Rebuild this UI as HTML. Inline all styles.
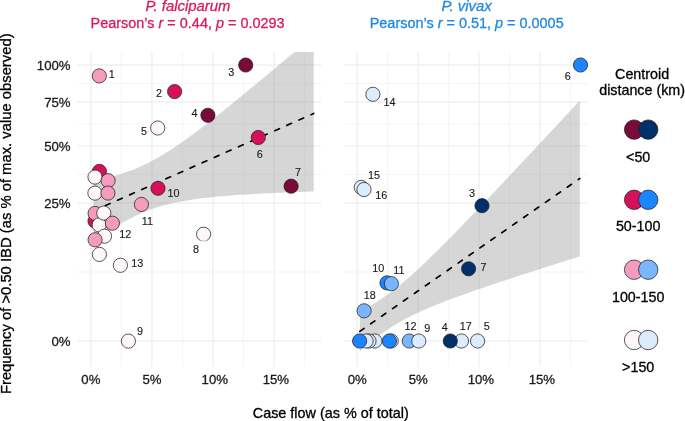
<!DOCTYPE html>
<html><head><meta charset="utf-8"><style>
html,body{margin:0;padding:0;background:#fff;}
svg{display:block;will-change:transform;}
text{font-family:"Liberation Sans", sans-serif;stroke:currentColor;stroke-width:0.3px;}
</style></head><body>
<svg width="685" height="421" viewBox="0 0 685 421">
<rect width="685" height="421" fill="#fff"/>
<line x1="121.35" y1="52.0" x2="121.35" y2="366.8" stroke="#F5F5F5" stroke-width="1"/>
<line x1="182.45" y1="52.0" x2="182.45" y2="366.8" stroke="#F5F5F5" stroke-width="1"/>
<line x1="243.55" y1="52.0" x2="243.55" y2="366.8" stroke="#F5F5F5" stroke-width="1"/>
<line x1="304.65" y1="52.0" x2="304.65" y2="366.8" stroke="#F5F5F5" stroke-width="1"/>
<line x1="77.5" y1="83.49" x2="321.2" y2="83.49" stroke="#F5F5F5" stroke-width="1"/>
<line x1="77.5" y1="123.91" x2="321.2" y2="123.91" stroke="#F5F5F5" stroke-width="1"/>
<line x1="77.5" y1="174.42" x2="321.2" y2="174.42" stroke="#F5F5F5" stroke-width="1"/>
<line x1="77.5" y1="272.00" x2="321.2" y2="272.00" stroke="#F5F5F5" stroke-width="1"/>
<line x1="90.80" y1="52.0" x2="90.80" y2="366.8" stroke="#F0F0F0" stroke-width="1.4"/>
<line x1="151.90" y1="52.0" x2="151.90" y2="366.8" stroke="#F0F0F0" stroke-width="1.4"/>
<line x1="213.00" y1="52.0" x2="213.00" y2="366.8" stroke="#F0F0F0" stroke-width="1.4"/>
<line x1="274.10" y1="52.0" x2="274.10" y2="366.8" stroke="#F0F0F0" stroke-width="1.4"/>
<line x1="77.5" y1="65.00" x2="321.2" y2="65.00" stroke="#F0F0F0" stroke-width="1.4"/>
<line x1="77.5" y1="101.98" x2="321.2" y2="101.98" stroke="#F0F0F0" stroke-width="1.4"/>
<line x1="77.5" y1="145.84" x2="321.2" y2="145.84" stroke="#F0F0F0" stroke-width="1.4"/>
<line x1="77.5" y1="203.00" x2="321.2" y2="203.00" stroke="#F0F0F0" stroke-width="1.4"/>
<line x1="77.5" y1="341.00" x2="321.2" y2="341.00" stroke="#F0F0F0" stroke-width="1.4"/>
<line x1="387.68" y1="52.0" x2="387.68" y2="366.8" stroke="#F5F5F5" stroke-width="1"/>
<line x1="448.62" y1="52.0" x2="448.62" y2="366.8" stroke="#F5F5F5" stroke-width="1"/>
<line x1="509.57" y1="52.0" x2="509.57" y2="366.8" stroke="#F5F5F5" stroke-width="1"/>
<line x1="570.52" y1="52.0" x2="570.52" y2="366.8" stroke="#F5F5F5" stroke-width="1"/>
<line x1="343.7" y1="83.49" x2="588.0" y2="83.49" stroke="#F5F5F5" stroke-width="1"/>
<line x1="343.7" y1="123.91" x2="588.0" y2="123.91" stroke="#F5F5F5" stroke-width="1"/>
<line x1="343.7" y1="174.42" x2="588.0" y2="174.42" stroke="#F5F5F5" stroke-width="1"/>
<line x1="343.7" y1="272.00" x2="588.0" y2="272.00" stroke="#F5F5F5" stroke-width="1"/>
<line x1="357.20" y1="52.0" x2="357.20" y2="366.8" stroke="#F0F0F0" stroke-width="1.4"/>
<line x1="418.15" y1="52.0" x2="418.15" y2="366.8" stroke="#F0F0F0" stroke-width="1.4"/>
<line x1="479.10" y1="52.0" x2="479.10" y2="366.8" stroke="#F0F0F0" stroke-width="1.4"/>
<line x1="540.05" y1="52.0" x2="540.05" y2="366.8" stroke="#F0F0F0" stroke-width="1.4"/>
<line x1="343.7" y1="65.00" x2="588.0" y2="65.00" stroke="#F0F0F0" stroke-width="1.4"/>
<line x1="343.7" y1="101.98" x2="588.0" y2="101.98" stroke="#F0F0F0" stroke-width="1.4"/>
<line x1="343.7" y1="145.84" x2="588.0" y2="145.84" stroke="#F0F0F0" stroke-width="1.4"/>
<line x1="343.7" y1="203.00" x2="588.0" y2="203.00" stroke="#F0F0F0" stroke-width="1.4"/>
<line x1="343.7" y1="341.00" x2="588.0" y2="341.00" stroke="#F0F0F0" stroke-width="1.4"/>
<path d="M93.40,180.09 L97.07,179.46 L100.74,178.78 L104.42,178.04 L108.09,177.24 L111.76,176.37 L115.43,175.42 L119.10,174.40 L122.77,173.29 L126.44,172.09 L130.12,170.80 L133.79,169.40 L137.46,167.90 L141.13,166.30 L144.80,164.59 L148.47,162.78 L152.15,160.86 L155.82,158.85 L159.49,156.75 L163.16,154.56 L166.83,152.29 L170.50,149.94 L174.18,147.52 L177.85,145.04 L181.52,142.49 L185.19,139.90 L188.86,137.25 L192.53,134.57 L196.21,131.84 L199.88,129.08 L203.55,126.28 L207.22,123.45 L210.89,120.60 L214.56,117.73 L218.24,114.83 L221.91,111.91 L225.58,108.98 L229.25,106.02 L232.92,103.06 L236.59,100.08 L240.27,97.08 L243.94,94.08 L247.61,91.06 L251.28,88.03 L254.95,85.00 L258.62,81.95 L262.30,78.90 L265.97,75.84 L269.64,72.78 L273.31,69.71 L276.98,66.63 L280.65,63.55 L284.33,60.46 L288.00,57.37 L291.67,54.27 L295.34,52.00 L299.01,52.00 L302.68,52.00 L306.36,52.00 L310.03,52.00 L313.70,52.00 L313.70,191.39 L310.03,191.52 L306.36,191.65 L302.68,191.79 L299.01,191.92 L295.34,192.07 L291.67,192.21 L288.00,192.36 L284.33,192.52 L280.65,192.67 L276.98,192.84 L273.31,193.01 L269.64,193.18 L265.97,193.36 L262.30,193.55 L258.62,193.75 L254.95,193.95 L251.28,194.16 L247.61,194.38 L243.94,194.61 L240.27,194.85 L236.59,195.10 L232.92,195.37 L229.25,195.65 L225.58,195.94 L221.91,196.25 L218.24,196.58 L214.56,196.93 L210.89,197.30 L207.22,197.70 L203.55,198.12 L199.88,198.57 L196.21,199.05 L192.53,199.57 L188.86,200.13 L185.19,200.74 L181.52,201.39 L177.85,202.09 L174.18,202.85 L170.50,203.68 L166.83,204.58 L163.16,205.55 L159.49,206.61 L155.82,207.75 L152.15,208.99 L148.47,210.32 L144.80,211.76 L141.13,213.30 L137.46,214.94 L133.79,216.69 L130.12,218.54 L126.44,220.49 L122.77,222.54 L119.10,224.67 L115.43,226.90 L111.76,229.20 L108.09,231.58 L104.42,234.02 L100.74,236.53 L97.07,239.09 L93.40,241.71 Z" fill="#999999" fill-opacity="0.4"/>
<path d="M359.80,311.34 L363.47,309.45 L367.13,307.48 L370.80,305.41 L374.47,303.24 L378.13,300.96 L381.80,298.57 L385.47,296.07 L389.13,293.45 L392.80,290.71 L396.47,287.86 L400.13,284.91 L403.80,281.86 L407.47,278.71 L411.13,275.48 L414.80,272.18 L418.47,268.81 L422.13,265.38 L425.80,261.89 L429.47,258.36 L433.13,254.79 L436.80,251.18 L440.47,247.53 L444.13,243.86 L447.80,240.16 L451.47,236.44 L455.13,232.70 L458.80,228.94 L462.47,225.16 L466.13,221.37 L469.80,217.57 L473.47,213.75 L477.13,209.92 L480.80,206.08 L484.47,202.24 L488.13,198.38 L491.80,194.52 L495.47,190.65 L499.13,186.78 L502.80,182.90 L506.47,179.01 L510.13,175.12 L513.80,171.23 L517.47,167.33 L521.13,163.42 L524.80,159.52 L528.47,155.61 L532.13,151.69 L535.80,147.78 L539.47,143.86 L543.13,139.94 L546.80,136.01 L550.47,132.09 L554.13,128.16 L557.80,124.23 L561.47,120.30 L565.13,116.36 L568.80,112.43 L572.47,108.49 L576.13,104.55 L579.80,100.61 L579.80,256.39 L576.13,257.54 L572.47,258.70 L568.80,259.86 L565.13,261.02 L561.47,262.19 L557.80,263.35 L554.13,264.52 L550.47,265.69 L546.80,266.86 L543.13,268.03 L539.47,269.20 L535.80,270.38 L532.13,271.56 L528.47,272.75 L524.80,273.93 L521.13,275.12 L517.47,276.32 L513.80,277.51 L510.13,278.72 L506.47,279.92 L502.80,281.13 L499.13,282.35 L495.47,283.57 L491.80,284.80 L488.13,286.03 L484.47,287.28 L480.80,288.53 L477.13,289.79 L473.47,291.05 L469.80,292.33 L466.13,293.63 L462.47,294.93 L458.80,296.25 L455.13,297.59 L451.47,298.94 L447.80,300.32 L444.13,301.72 L440.47,303.14 L436.80,304.59 L433.13,306.08 L429.47,307.60 L425.80,309.17 L422.13,310.78 L418.47,312.44 L414.80,314.17 L411.13,315.96 L407.47,317.83 L403.80,319.78 L400.13,321.83 L396.47,323.97 L392.80,326.22 L389.13,328.58 L385.47,331.06 L381.80,333.65 L378.13,336.35 L374.47,339.17 L370.80,342.10 L367.13,345.13 L363.47,348.25 L359.80,351.46 Z" fill="#999999" fill-opacity="0.4"/>
<line x1="93.4" y1="210.9" x2="313.7" y2="113.5" stroke="#000" stroke-width="1.7" stroke-dasharray="5.05 8.17" stroke-linecap="round"/>
<line x1="359.8" y1="331.4" x2="579.8" y2="178.5" stroke="#000" stroke-width="1.7" stroke-dasharray="5.08 8.22" stroke-linecap="round"/>
<circle cx="99.3" cy="75.9" r="7.1" fill="#F49BBE" stroke="#222" stroke-width="0.75"/>
<circle cx="174.6" cy="91.6" r="7.1" fill="#D6115A" stroke="#222" stroke-width="0.75"/>
<circle cx="245.7" cy="65.0" r="7.1" fill="#7A0A37" stroke="#222" stroke-width="0.75"/>
<circle cx="207.9" cy="115.3" r="7.1" fill="#7A0A37" stroke="#222" stroke-width="0.75"/>
<circle cx="157.7" cy="128.0" r="7.1" fill="#FFF6F8" stroke="#222" stroke-width="0.75"/>
<circle cx="258.3" cy="137.5" r="7.1" fill="#D6115A" stroke="#222" stroke-width="0.75"/>
<circle cx="291.1" cy="186.2" r="7.1" fill="#7A0A37" stroke="#222" stroke-width="0.75"/>
<circle cx="203.6" cy="234.2" r="7.1" fill="#FFF6F8" stroke="#222" stroke-width="0.75"/>
<circle cx="128.4" cy="341.1" r="7.1" fill="#FFF6F8" stroke="#222" stroke-width="0.75"/>
<circle cx="158.0" cy="188.3" r="7.1" fill="#D6115A" stroke="#222" stroke-width="0.75"/>
<circle cx="141.4" cy="204.4" r="7.1" fill="#F49BBE" stroke="#222" stroke-width="0.75"/>
<circle cx="120.4" cy="265.3" r="7.1" fill="#FFF6F8" stroke="#222" stroke-width="0.75"/>
<circle cx="99.4" cy="171.4" r="7.1" fill="#D6115A" stroke="#222" stroke-width="0.75"/>
<circle cx="95.0" cy="177.1" r="7.1" fill="#FFF6F8" stroke="#222" stroke-width="0.75"/>
<circle cx="108.1" cy="180.7" r="7.1" fill="#F49BBE" stroke="#222" stroke-width="0.75"/>
<circle cx="94.9" cy="193.1" r="7.1" fill="#FFF6F8" stroke="#222" stroke-width="0.75"/>
<circle cx="107.9" cy="193.1" r="7.1" fill="#F49BBE" stroke="#222" stroke-width="0.75"/>
<circle cx="95.0" cy="221.0" r="7.1" fill="#D6115A" stroke="#222" stroke-width="0.75"/>
<circle cx="95.1" cy="213.4" r="7.1" fill="#F49BBE" stroke="#222" stroke-width="0.75"/>
<circle cx="99.2" cy="224.9" r="7.1" fill="#FFF6F8" stroke="#222" stroke-width="0.75"/>
<circle cx="103.8" cy="213.1" r="7.1" fill="#FFF6F8" stroke="#222" stroke-width="0.75"/>
<circle cx="112.4" cy="223.2" r="7.1" fill="#F49BBE" stroke="#222" stroke-width="0.75"/>
<circle cx="104.5" cy="236.2" r="7.1" fill="#FFF6F8" stroke="#222" stroke-width="0.75"/>
<circle cx="95.1" cy="239.8" r="7.1" fill="#F49BBE" stroke="#222" stroke-width="0.75"/>
<circle cx="99.4" cy="254.4" r="7.1" fill="#FFF6F8" stroke="#222" stroke-width="0.75"/>
<circle cx="580.5" cy="65.0" r="7.1" fill="#1B85FF" stroke="#222" stroke-width="0.75"/>
<circle cx="372.9" cy="94.3" r="7.1" fill="#DCEBFD" stroke="#222" stroke-width="0.75"/>
<circle cx="361.2" cy="187.4" r="7.1" fill="#DCEBFD" stroke="#222" stroke-width="0.75"/>
<circle cx="364.0" cy="189.5" r="7.1" fill="#DCEBFD" stroke="#222" stroke-width="0.75"/>
<circle cx="482.0" cy="205.7" r="7.1" fill="#003069" stroke="#222" stroke-width="0.75"/>
<circle cx="468.6" cy="268.8" r="7.1" fill="#003069" stroke="#222" stroke-width="0.75"/>
<circle cx="387.0" cy="282.9" r="7.1" fill="#1B85FF" stroke="#222" stroke-width="0.75"/>
<circle cx="391.4" cy="283.7" r="7.1" fill="#7AB6FF" stroke="#222" stroke-width="0.75"/>
<circle cx="364.1" cy="310.8" r="7.1" fill="#7AB6FF" stroke="#222" stroke-width="0.75"/>
<circle cx="374.9" cy="341.0" r="7.1" fill="#DCEBFD" stroke="#222" stroke-width="0.75"/>
<circle cx="369.0" cy="341.0" r="7.1" fill="#DCEBFD" stroke="#222" stroke-width="0.75"/>
<circle cx="366.1" cy="341.0" r="7.1" fill="#DCEBFD" stroke="#222" stroke-width="0.75"/>
<circle cx="359.6" cy="341.0" r="7.1" fill="#1B85FF" stroke="#222" stroke-width="0.75"/>
<circle cx="391.2" cy="341.0" r="7.1" fill="#DCEBFD" stroke="#222" stroke-width="0.75"/>
<circle cx="389.4" cy="341.0" r="7.1" fill="#1B85FF" stroke="#222" stroke-width="0.75"/>
<circle cx="409.3" cy="341.0" r="7.1" fill="#7AB6FF" stroke="#222" stroke-width="0.75"/>
<circle cx="418.8" cy="341.0" r="7.1" fill="#DCEBFD" stroke="#222" stroke-width="0.75"/>
<circle cx="461.5" cy="341.0" r="7.1" fill="#DCEBFD" stroke="#222" stroke-width="0.75"/>
<circle cx="450.3" cy="341.0" r="7.1" fill="#003069" stroke="#222" stroke-width="0.75"/>
<circle cx="477.6" cy="341.0" r="7.1" fill="#DCEBFD" stroke="#222" stroke-width="0.75"/>
<path d="M200.6,240.6 A7.1,7.1 0 0 0 206.6,240.6" fill="none" stroke="#f0f0f0" stroke-width="1.2"/>
<text x="108.85" y="77.65" font-size="10.8" fill="#1a1a1a" color="#1a1a1a" style="stroke-width:0.12px">1</text>
<text x="155.90" y="96.50" font-size="10.8" fill="#1a1a1a" color="#1a1a1a" style="stroke-width:0.12px">2</text>
<text x="228.20" y="76.45" font-size="10.8" fill="#1a1a1a" color="#1a1a1a" style="stroke-width:0.12px">3</text>
<text x="191.55" y="117.00" font-size="10.8" fill="#1a1a1a" color="#1a1a1a" style="stroke-width:0.12px">4</text>
<text x="140.95" y="135.00" font-size="10.8" fill="#1a1a1a" color="#1a1a1a" style="stroke-width:0.12px">5</text>
<text x="256.70" y="157.50" font-size="10.8" fill="#1a1a1a" color="#1a1a1a" style="stroke-width:0.12px">6</text>
<text x="294.95" y="176.20" font-size="10.8" fill="#1a1a1a" color="#1a1a1a" style="stroke-width:0.12px">7</text>
<text x="193.10" y="253.05" font-size="10.8" fill="#1a1a1a" color="#1a1a1a" style="stroke-width:0.12px">8</text>
<text x="136.95" y="334.70" font-size="10.8" fill="#1a1a1a" color="#1a1a1a" style="stroke-width:0.12px">9</text>
<text x="167.45" y="196.55" font-size="10.8" fill="#1a1a1a" color="#1a1a1a" style="stroke-width:0.12px">10</text>
<text x="141.75" y="224.50" font-size="10.8" fill="#1a1a1a" color="#1a1a1a" style="stroke-width:0.12px">11</text>
<text x="119.30" y="237.65" font-size="10.8" fill="#1a1a1a" color="#1a1a1a" style="stroke-width:0.12px">12</text>
<text x="131.30" y="267.35" font-size="10.8" fill="#1a1a1a" color="#1a1a1a" style="stroke-width:0.12px">13</text>
<text x="564.65" y="79.50" font-size="10.8" fill="#1a1a1a" color="#1a1a1a" style="stroke-width:0.12px">6</text>
<text x="383.50" y="105.70" font-size="10.8" fill="#1a1a1a" color="#1a1a1a" style="stroke-width:0.12px">14</text>
<text x="368.10" y="178.55" font-size="10.8" fill="#1a1a1a" color="#1a1a1a" style="stroke-width:0.12px">15</text>
<text x="375.15" y="199.35" font-size="10.8" fill="#1a1a1a" color="#1a1a1a" style="stroke-width:0.12px">16</text>
<text x="468.95" y="197.30" font-size="10.8" fill="#1a1a1a" color="#1a1a1a" style="stroke-width:0.12px">3</text>
<text x="480.40" y="270.65" font-size="10.8" fill="#1a1a1a" color="#1a1a1a" style="stroke-width:0.12px">7</text>
<text x="372.25" y="272.35" font-size="10.8" fill="#1a1a1a" color="#1a1a1a" style="stroke-width:0.12px">10</text>
<text x="393.35" y="273.95" font-size="10.8" fill="#1a1a1a" color="#1a1a1a" style="stroke-width:0.12px">11</text>
<text x="363.75" y="299.35" font-size="10.8" fill="#1a1a1a" color="#1a1a1a" style="stroke-width:0.12px">18</text>
<text x="404.55" y="330.15" font-size="10.8" fill="#1a1a1a" color="#1a1a1a" style="stroke-width:0.12px">12</text>
<text x="424.20" y="332.45" font-size="10.8" fill="#1a1a1a" color="#1a1a1a" style="stroke-width:0.12px">9</text>
<text x="441.65" y="330.60" font-size="10.8" fill="#1a1a1a" color="#1a1a1a" style="stroke-width:0.12px">4</text>
<text x="459.85" y="330.45" font-size="10.8" fill="#1a1a1a" color="#1a1a1a" style="stroke-width:0.12px">17</text>
<text x="483.80" y="330.45" font-size="10.8" fill="#1a1a1a" color="#1a1a1a" style="stroke-width:0.12px">5</text>
<text x="70.6" y="70.10" font-size="13.2" text-anchor="end" fill="#1a1a1a" color="#1a1a1a">100%</text>
<text x="70.6" y="107.08" font-size="13.2" text-anchor="end" fill="#1a1a1a" color="#1a1a1a">75%</text>
<text x="70.6" y="150.94" font-size="13.2" text-anchor="end" fill="#1a1a1a" color="#1a1a1a">50%</text>
<text x="70.6" y="208.10" font-size="13.2" text-anchor="end" fill="#1a1a1a" color="#1a1a1a">25%</text>
<text x="70.6" y="346.10" font-size="13.2" text-anchor="end" fill="#1a1a1a" color="#1a1a1a">0%</text>
<text x="90.90" y="383.9" font-size="13.2" text-anchor="middle" fill="#1a1a1a" color="#1a1a1a">0%</text>
<text x="152.00" y="383.9" font-size="13.2" text-anchor="middle" fill="#1a1a1a" color="#1a1a1a">5%</text>
<text x="214.80" y="383.9" font-size="13.2" text-anchor="middle" fill="#1a1a1a" color="#1a1a1a">10%</text>
<text x="275.90" y="383.9" font-size="13.2" text-anchor="middle" fill="#1a1a1a" color="#1a1a1a">15%</text>
<text x="357.30" y="383.9" font-size="13.2" text-anchor="middle" fill="#1a1a1a" color="#1a1a1a">0%</text>
<text x="418.25" y="383.9" font-size="13.2" text-anchor="middle" fill="#1a1a1a" color="#1a1a1a">5%</text>
<text x="480.90" y="383.9" font-size="13.2" text-anchor="middle" fill="#1a1a1a" color="#1a1a1a">10%</text>
<text x="541.85" y="383.9" font-size="13.2" text-anchor="middle" fill="#1a1a1a" color="#1a1a1a">15%</text>
<text x="188" y="10.6" font-size="14.9" text-anchor="middle" font-style="italic" fill="#D81B60" color="#D81B60">P. falciparum</text>
<text x="187.6" y="27.7" font-size="14.45" text-anchor="middle" fill="#D81B60" color="#D81B60">Pearson’s <tspan font-style="italic">r</tspan> = 0.44, <tspan font-style="italic">p</tspan> = 0.0293</text>
<text x="466.6" y="10.6" font-size="14.9" text-anchor="middle" font-style="italic" fill="#1E88E5" color="#1E88E5">P. vivax</text>
<text x="466.7" y="27.7" font-size="14.45" text-anchor="middle" fill="#1E88E5" color="#1E88E5">Pearson’s <tspan font-style="italic">r</tspan> = 0.51, <tspan font-style="italic">p</tspan> = 0.0005</text>
<text x="330.75" y="417.6" font-size="14.4" text-anchor="middle" fill="#000" color="#000">Case flow (as % of total)</text>
<text transform="translate(10.7,213.75) rotate(-90)" x="0" y="0" font-size="14.8" text-anchor="middle" fill="#000" color="#000">Frequency of &gt;0.50 IBD (as % of max. value observed)</text>
<text x="642.1" y="78.5" font-size="14.3" text-anchor="middle" fill="#000" color="#000">Centroid</text>
<text x="642.1" y="95" font-size="14.3" text-anchor="middle" fill="#000" color="#000">distance (km)</text>
<circle cx="634.1" cy="129.6" r="9.7" fill="#7A0A37" stroke="#222" stroke-width="0.75"/>
<circle cx="648.2" cy="129.6" r="9.7" fill="#003069" stroke="#222" stroke-width="0.75"/>
<text x="638.2" y="161.8" font-size="14.3" text-anchor="middle" fill="#000" color="#000">&lt;50</text>
<circle cx="634.1" cy="199.8" r="9.7" fill="#D6115A" stroke="#222" stroke-width="0.75"/>
<circle cx="648.2" cy="199.8" r="9.7" fill="#1B85FF" stroke="#222" stroke-width="0.75"/>
<text x="638.2" y="231.4" font-size="14.3" text-anchor="middle" fill="#000" color="#000">50-100</text>
<circle cx="634.1" cy="269.7" r="9.7" fill="#F49BBE" stroke="#222" stroke-width="0.75"/>
<circle cx="648.2" cy="269.7" r="9.7" fill="#7AB6FF" stroke="#222" stroke-width="0.75"/>
<text x="638.2" y="301.8" font-size="14.3" text-anchor="middle" fill="#000" color="#000">100-150</text>
<circle cx="634.1" cy="340.0" r="9.7" fill="#FFF6F8" stroke="#222" stroke-width="0.75"/>
<circle cx="648.2" cy="340.0" r="9.7" fill="#DCEBFD" stroke="#222" stroke-width="0.75"/>
<text x="638.2" y="372.4" font-size="14.3" text-anchor="middle" fill="#000" color="#000">&gt;150</text>
</svg>
</body></html>
